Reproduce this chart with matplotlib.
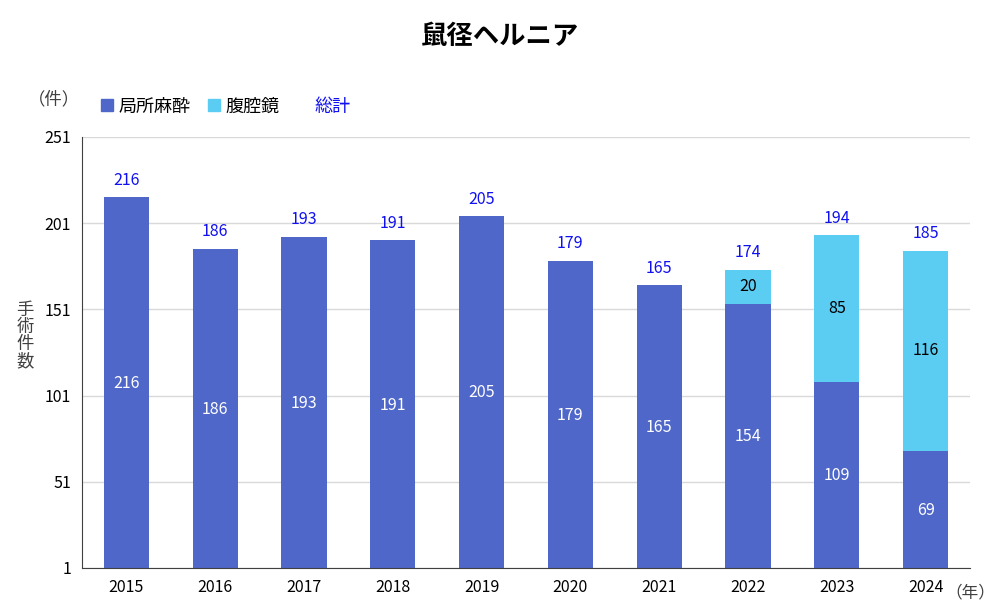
import matplotlib.pyplot as plt
import numpy as np
from matplotlib.patches import Patch

plt.rcParams["font.family"] = ["Noto Sans CJK JP", "DejaVu Sans"]

# data
years = ["2015", "2016", "2017", "2018", "2019", "2020", "2021", "2022", "2023", "2024"]
local = [216, 186, 193, 191, 205, 179, 165, 154, 109, 69]
laparo = [0, 0, 0, 0, 0, 0, 0, 20, 85, 116]
yticks = [1, 51, 101, 151, 201, 251]

DARK = "#4F67C8"
LIGHT = "#5BCDF2"
TOTAL = "#1010F0"

fig = plt.figure(figsize=(10, 6.16), dpi=100)
ax = fig.add_axes([0.082, 0.078, 0.888, 0.6996])

x = np.arange(len(years))
local_arr = np.array(local)
lap_arr = np.array(laparo)
totals = local_arr + lap_arr

w = 0.51
ax.bar(x, local_arr, width=w, color=DARK, zorder=2)
ax.bar(x, lap_arr, width=w, bottom=local_arr, color=LIGHT, zorder=2)

for i in range(len(years)):
    ax.text(x[i], local_arr[i] / 2, str(local_arr[i]), ha="center", va="center",
            color="white", fontsize=11.5, zorder=3)
    if lap_arr[i] > 0:
        ax.text(x[i], local_arr[i] + lap_arr[i] / 2, str(lap_arr[i]), ha="center",
                va="center", color="black", fontsize=11.5, zorder=3)
    ax.text(x[i], totals[i] + 5, str(totals[i]), ha="center", va="bottom",
            color=TOTAL, fontsize=11.5, zorder=3)

ax.set_ylim(1, 251)
ax.set_xlim(-0.5, len(years) - 0.5)
ax.set_yticks(yticks)
ax.set_xticks(x)
ax.set_xticklabels(years)
ax.tick_params(axis="both", length=0, labelsize=11.5, pad=8)
ax.yaxis.grid(True, color="#D9D9D9", linewidth=1, zorder=0)
ax.set_axisbelow(True)

for s in ["top", "right"]:
    ax.spines[s].set_visible(False)
ax.spines["left"].set_color("#404040")
ax.spines["bottom"].set_color("#404040")

# title / labels
fig.text(0.5, 0.94, "鼠径ヘルニア", ha="center", va="center", fontsize=19, fontweight="bold")
fig.text(0.054, 0.838, "（件）", ha="center", va="center", fontsize=12.5, color="#404040")
fig.text(0.945, 0.038, "（年）", ha="left", va="center", fontsize=12, color="#404040")
fig.text(0.025, 0.455, "手\n術\n件\n数", ha="center", va="center", fontsize=12.5,
         linespacing=0.92, color="#404040")

handles = [Patch(color=DARK), Patch(color=LIGHT), Patch(color="none")]
leg = fig.legend(handles, ["局所麻酔", "腹腔鏡", "総計"], loc="center left",
                 bbox_to_anchor=(0.085, 0.827), ncol=3, frameon=False, fontsize=13,
                 handlelength=0.65, handleheight=0.65, handletextpad=0.3, columnspacing=1.0)
leg.get_texts()[2].set_color(TOTAL)

fig.savefig("out.png", dpi=100)
